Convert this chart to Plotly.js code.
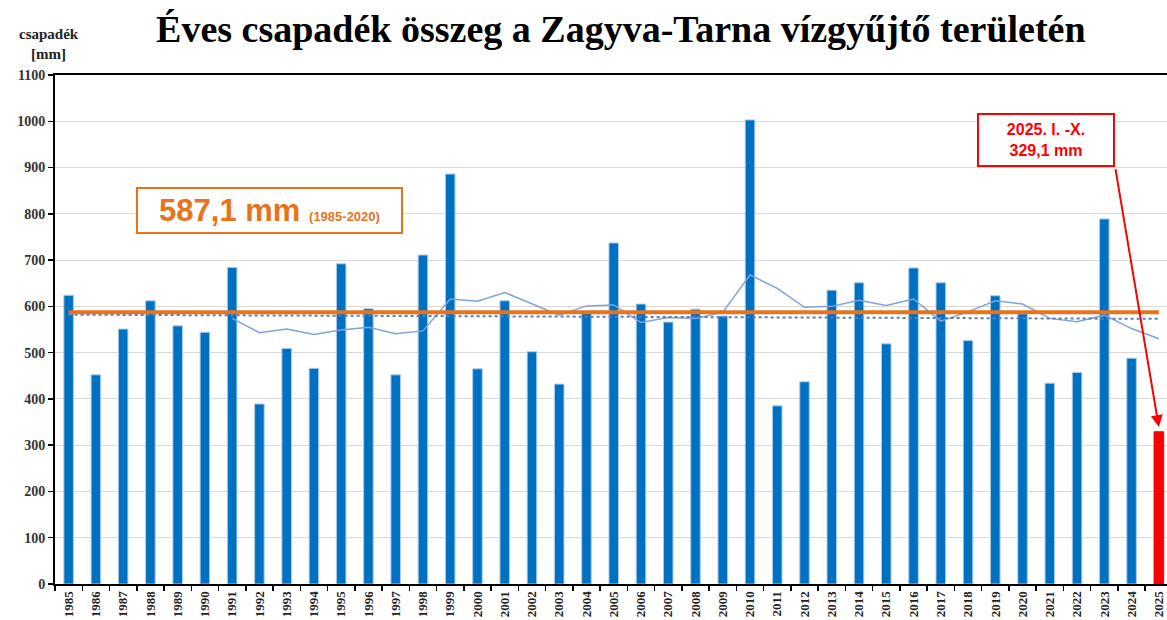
<!DOCTYPE html>
<html>
<head>
<meta charset="utf-8">
<script src="https://cdn.plot.ly/plotly-3.0.1.min.js"></script>
<style>html,body{margin:0;padding:0;background:#fff}#chart{width:1167px;height:620px}</style>
</head>
<body>
<div id="chart"></div>
<script>
const years = ['1985','1986','1987','1988','1989','1990','1991','1992','1993','1994','1995','1996','1997','1998','1999','2000','2001','2002','2003','2004','2005','2006','2007','2008','2009','2010','2011','2012','2013','2014','2015','2016','2017','2018','2019','2020','2021','2022','2023','2024','2025'];
const precip = [624,452,551,612,558,544,684,389,509,466,692,595,452,711,886,465,612,502,432,585,737,605,566,594,579,1003,385,437,635,651,519,683,651,526,623,584,434,457,789,488,329.1];
const maYears = ['1991','1992','1993','1994','1995','1996','1997','1998','1999','2000','2001','2002','2003','2004','2005','2006','2007','2008','2009','2010','2011','2012','2013','2014','2015','2016','2017','2018','2019','2020','2021','2022','2023','2024','2025'];
const movingAvg = [574,543,551,539,549,555,541,547,616,611,630,605,581,601,603,565,576,574,587,668,639,598,600,613,602,616,568,588,612,605,574,567,581,552,530];
const lineYears = ['1985','2025'];
const meanValue = 587.1;
const trendValues = [582,573];
const currentYear = '2025';
const meanLabel = '587,1 mm';
const meanPeriod = '(1985-2020)';
const currentLabel = ['2025. I. -X.','329,1 mm'];
const yTicks = [0,100,200,300,400,500,600,700,800,900,1000,1100];

const barColors = years.map(y => y === currentYear ? '#FF0000' : '#0070C0');
const barLines = years.map(y => y === currentYear ? '#FF0000' : '#A9CBEA');
const serif = '"Liberation Serif", "Times New Roman", serif';
const sans = '"Liberation Sans", Arial, sans-serif';
const currentIdx = years.indexOf(currentYear);

const traces = [
  {type:'bar', x:years, y:precip, width:0.35,
   marker:{color:barColors, line:{color:barLines, width:1}}, hoverinfo:'x+y'},
  {type:'scatter', mode:'lines', x:maYears, y:movingAvg,
   line:{color:'#7FA3D8', width:1.5}},
  {type:'scatter', mode:'lines', x:lineYears, y:trendValues,
   line:{color:'#4F7FCB', width:2, dash:'dot'}},
  {type:'scatter', mode:'lines', x:lineYears, y:lineYears.map(()=>meanValue),
   line:{color:'#E8731A', width:4}}
];

const layout = {
  width:1167, height:620,
  margin:{l:55, r:0, t:75, b:36},
  paper_bgcolor:'#fff', plot_bgcolor:'#fff',
  showlegend:false,
  title:{text:'Éves csapadék összeg a Zagyva-Tarna vízgyűjtő területén',
    font:{family:serif, size:38, color:'#000', weight:'bold'},
    x:0.532, xanchor:'center', xref:'container', y:0.953, yanchor:'middle'},
  xaxis:{type:'category', range:[-0.5, 40.3],
    tickangle:-90, tickfont:{family:serif, size:13, color:'#222', weight:'bold'},
    ticks:'outside', tickson:'boundaries', ticklen:5, tickcolor:'#000', tickwidth:1.5,
    showline:true, linecolor:'#000', linewidth:2, mirror:true, showgrid:false, zeroline:false, fixedrange:true},
  yaxis:{range:[0,1100], tickvals:yTicks, ticks:'outside', ticklen:5, tickcolor:'#000', tickwidth:1.5,
    tickfont:{family:serif, size:14, color:'#333', weight:'bold'},
    showline:true, linecolor:'#000', linewidth:2, showgrid:true, gridcolor:'#D9D9D9', gridwidth:1,
    zeroline:false, fixedrange:true},
  annotations:[
    {xref:'paper', yref:'paper', x:-0.005, y:1.061, xanchor:'center', yanchor:'middle',
     text:'csapadék<br>[mm]', showarrow:false, align:'center',
     font:{family:serif, size:15, color:'#222', weight:'bold'}},
    {xref:'paper', yref:'y', x:0.1933, y:808, xanchor:'center', yanchor:'middle',
     text:'<b>'+meanLabel+'</b> <span style="font-size:13px"><b>'+meanPeriod+'</b></span>',
     showarrow:false, font:{family:sans, size:31, color:'#E8731A'},
     bordercolor:'#E8731A', borderwidth:2, borderpad:4, bgcolor:'#fff', width:255},
    {xref:'x', yref:'y', x:currentIdx, y:precip[currentIdx]+10, text:'.',
     font:{size:4, color:'rgba(0,0,0,0)'}, showarrow:true, arrowhead:2, arrowsize:1.2, arrowwidth:2, arrowcolor:'#FF0000',
     axref:'pixel', ayref:'pixel', ax:-44, ay:-262, standoff:0, startstandoff:0},
    {xref:'paper', yref:'paper', x:0.891, y:0.872, xanchor:'center', yanchor:'middle',
     text:'<b>'+currentLabel[0]+'</b><br><b>'+currentLabel[1]+'</b>',
     showarrow:false, font:{family:sans, size:16, color:'#FF0000'},
     bordercolor:'#FF0000', borderwidth:2, borderpad:6, bgcolor:'#fff', width:122}
  ]
};

Plotly.newPlot('chart', traces, layout, {displayModeBar:false, staticPlot:true});
</script>
</body>
</html>
